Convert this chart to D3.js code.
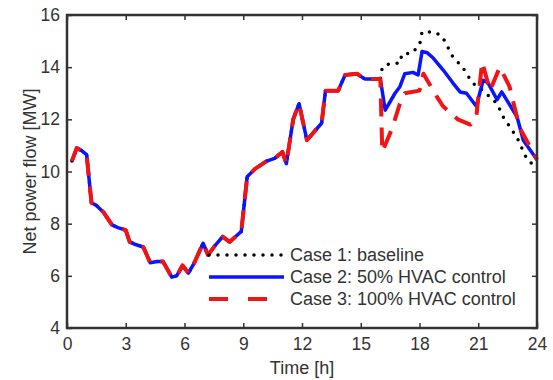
<!DOCTYPE html>
<html><head><meta charset="utf-8">
<script src="https://cdn.jsdelivr.net/npm/d3@7"></script>
<style>
html,body{margin:0;padding:0;background:#fff;}
svg{display:block;}
text{font-family:Arial,"Liberation Sans",sans-serif;fill:#333;}
</style></head>
<body>
<svg id="c" width="553" height="380"></svg>
<script>
// ---- data ----
const xTicks = [0,3,6,9,12,15,18,21,24];
const yTicks = [4,6,8,10,12,14,16];
const seriesNames = ["Case 1: baseline","Case 2: 50% HVAC control","Case 3: 100% HVAC control"];

const commonT = [0.25,0.5,0.75,1.0,1.25,1.5,1.85,2.3,2.6,3.0,3.2,3.5,3.9,4.25,4.6,4.9,5.35,5.6,5.9,6.2,6.5,6.95,7.2,7.6,7.95,8.3,8.9,9.2,9.6,10.2,10.6,11.0,11.2,11.55,11.85,12.25,13.0,13.2,13.85,14.2,14.8,15.2,16.0];
const commonV = [10.4,10.9,10.8,10.65,8.8,8.7,8.45,7.95,7.85,7.75,7.3,7.2,7.1,6.5,6.55,6.55,5.95,6.0,6.4,6.1,6.5,7.25,6.8,7.2,7.5,7.3,7.7,9.8,10.1,10.4,10.5,10.75,10.3,12.0,12.6,11.2,11.85,13.1,13.1,13.7,13.75,13.55,13.55];

const case1T = [16.1,16.5,17.0,17.1,17.67,18.03,18.13,18.7,19.15,19.7,20.2,20.7,21.25,21.96,22.27,22.98,23.5,24.0];
const case1V = [14.0,14.15,14.15,14.5,14.55,14.95,15.35,15.35,15.2,14.4,14.0,13.4,13.1,12.6,12.1,11.3,10.45,10.15];

const case2T = [16.25,16.75,17.0,17.25,17.67,17.93,18.13,18.4,18.7,19.2,19.7,20.07,20.4,20.9,21.25,21.5,21.96,22.2,22.98,23.3,24.0];
const case2V = [12.35,13.0,13.25,13.75,13.8,13.7,14.6,14.55,14.35,13.9,13.4,13.05,13.0,12.5,13.5,13.4,12.75,13.05,12.1,11.2,10.45];

const case3T = [16.1,16.6,17.0,17.25,18.0,18.2,18.9,19.2,19.95,20.6,20.9,21.2,21.6,22.1,22.6,23.1,24.0];
const case3V = [10.75,11.65,12.6,13.0,13.1,13.75,12.85,12.5,12.0,11.8,12.1,14.2,13.1,14.0,13.25,11.7,10.45];

// ---- build ----
const svg = d3.select("#c");
const L=67,R=537,T=15,B=328;
const x = d3.scaleLinear().domain([0,24]).range([L,R]);
const y = d3.scaleLinear().domain([4,16]).range([B,T]);

const mk = (ts,vs)=>ts.map((t,i)=>[t,vs[i]]);
const common = mk(commonT,commonV);
const s1 = common.concat(mk(case1T,case1V));
const s2 = common.concat(mk(case2T,case2V));
const s3 = common.concat(mk(case3T,case3V));

const line = d3.line().x(d=>x(d[0])).y(d=>y(d[1]));

const styles = [
  {stroke:"#000",width:3.5,dash:"0,9",cap:"round"},
  {stroke:"#0a14ff",width:3.5,dash:null,cap:"butt"},
  {stroke:"#f01414",width:4,dash:"18,11",cap:"butt"}
];
const data=[s1,s2,s3];
data.forEach((d,i)=>{
  const st=styles[i];
  svg.append("path").attr("d",line(d)).attr("fill","none")
    .attr("stroke",st.stroke).attr("stroke-width",st.width)
    .attr("stroke-linejoin","round").attr("stroke-linecap",st.cap)
    .attr("stroke-dasharray",st.dash);
});

// axes
const axCol="#333";
function styleAxis(g,labels){
  g.select(".domain").remove();
  g.selectAll(".tick line").attr("stroke",axCol).attr("stroke-width",1.5);
  g.selectAll(".tick text").style("font-size","17.5px").attr("fill","#333");
  if(!labels) g.selectAll(".tick text").remove();
}
const gb=svg.append("g").attr("transform",`translate(0,${B})`)
  .call(d3.axisBottom(x).tickValues(xTicks).tickSize(-5).tickFormat(d3.format("d")));
styleAxis(gb,true);
gb.selectAll(".tick text").attr("y",10);
const gt=svg.append("g").attr("transform",`translate(0,${T})`)
  .call(d3.axisTop(x).tickValues(xTicks).tickSize(-5));
styleAxis(gt,false);
const gl=svg.append("g").attr("transform",`translate(${L},0)`)
  .call(d3.axisLeft(y).tickValues(yTicks).tickSize(-5).tickFormat(d3.format("d")));
styleAxis(gl,true);
gl.selectAll(".tick text").attr("x",-7);
const gr=svg.append("g").attr("transform",`translate(${R},0)`)
  .call(d3.axisRight(y).tickValues(yTicks).tickSize(-5));
styleAxis(gr,false);

svg.append("rect").attr("x",L).attr("y",T).attr("width",R-L).attr("height",B-T)
  .attr("fill","none").attr("stroke",axCol).attr("stroke-width",2.5);

// labels
svg.append("text").attr("x",(L+R)/2).attr("y",374).attr("text-anchor","middle")
  .style("font-size","18px").text("Time [h]");
svg.append("text").attr("transform",`translate(36,${(T+B)/2}) rotate(-90)`)
  .attr("text-anchor","middle").style("font-size","18px").text("Net power flow [MW]");

// legend
const legY=[255,277,299];
seriesNames.forEach((n,i)=>{
  const st=styles[i];
  svg.append("line").attr("x1",209).attr("x2",284).attr("y1",legY[i]).attr("y2",legY[i])
    .attr("stroke",st.stroke).attr("stroke-width",st.width)
    .attr("stroke-linecap",st.cap)
    .attr("stroke-dasharray",i===2?"19,20":st.dash);
  svg.append("text").attr("x",290).attr("y",legY[i]+6).style("font-size","18px").text(n);
});
</script>
</body></html>
